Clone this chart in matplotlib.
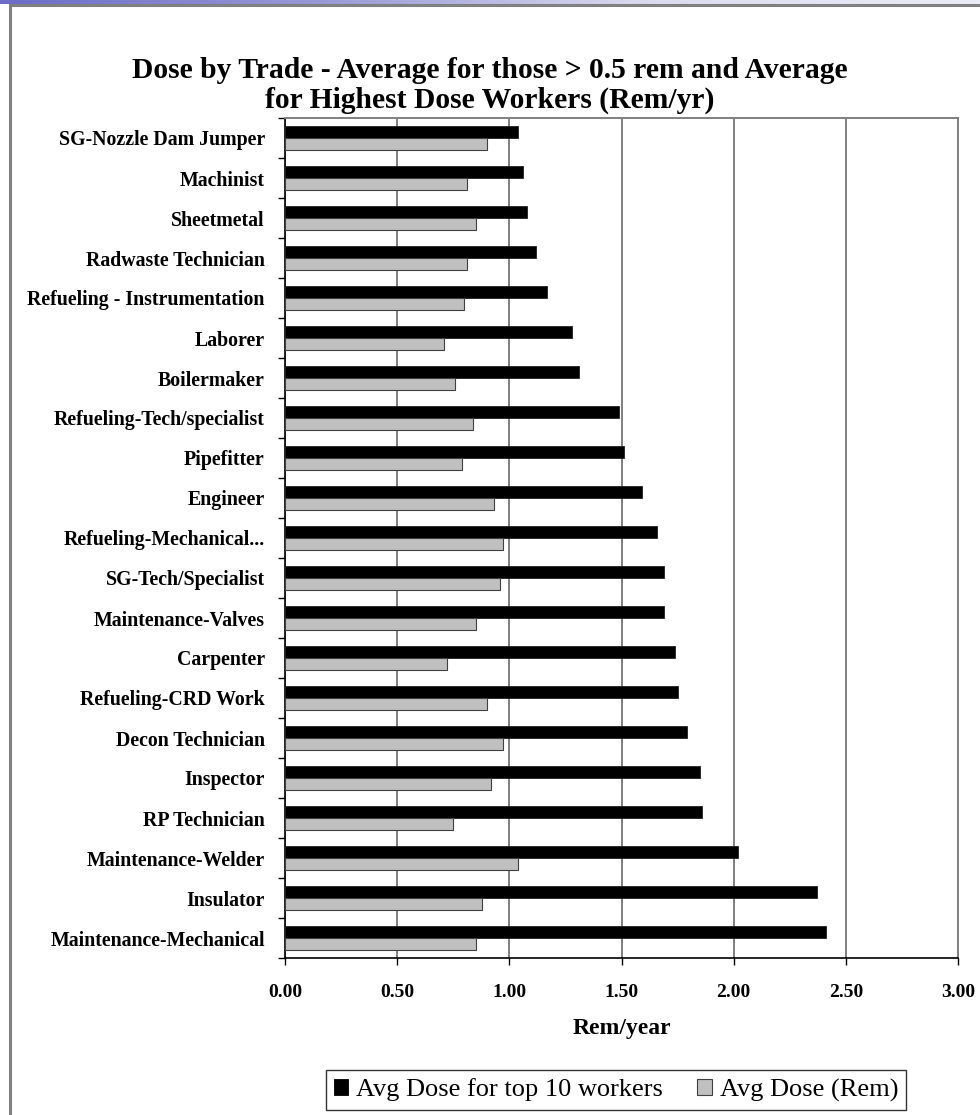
import numpy as np
import matplotlib
matplotlib.use("Agg")
import matplotlib.pyplot as plt
from matplotlib.lines import Line2D
from matplotlib.patches import Patch
from matplotlib.colors import LinearSegmentedColormap

# Trades, listed top to bottom
trades = [
    "SG-Nozzle Dam Jumper",
    "Machinist",
    "Sheetmetal",
    "Radwaste Technician",
    "Refueling - Instrumentation",
    "Laborer",
    "Boilermaker",
    "Refueling-Tech/specialist",
    "Pipefitter",
    "Engineer",
    "Refueling-Mechanical...",
    "SG-Tech/Specialist",
    "Maintenance-Valves",
    "Carpenter",
    "Refueling-CRD Work",
    "Decon Technician",
    "Inspector",
    "RP Technician",
    "Maintenance-Welder",
    "Insulator",
    "Maintenance-Mechanical",
]

# Average dose of the ten highest-dose workers per trade (rem/yr)
top10_dose = [1.04, 1.06, 1.08, 1.12, 1.17, 1.28, 1.31, 1.49, 1.51, 1.59, 1.66,
              1.69, 1.69, 1.74, 1.75, 1.79, 1.85, 1.86, 2.02, 2.37, 2.41]

# Average dose for workers above 0.5 rem (rem/yr)
avg_dose = [0.90, 0.81, 0.85, 0.81, 0.80, 0.71, 0.76, 0.84, 0.79, 0.93, 0.97,
            0.96, 0.85, 0.72, 0.90, 0.97, 0.92, 0.75, 1.04, 0.88, 0.85]

x_ticks = [0.0, 0.5, 1.0, 1.5, 2.0, 2.5, 3.0]
series_names = ["Avg Dose for top 10 workers", "Avg Dose (Rem)"]

SERIF = ["Liberation Serif", "DejaVu Serif"]
W, H = 980, 1115

fig = plt.figure(figsize=(W / 100, H / 100), dpi=100)
fig.patch.set_facecolor("white")

# Slide header strip with a blue-violet gradient and a gray frame
strip = fig.add_axes([0, 1 - 4 / H, 1, 4 / H])
grad = np.linspace(0, 1, 256)[None, :]
cmap = LinearSegmentedColormap.from_list("hdr", ["#6c6cc8", "#9a9ad8", "#dcdcf0", "#ececf6"])
strip.imshow(grad, aspect="auto", cmap=cmap, extent=[0, 1, 0, 1])
strip.set_axis_off()
fig.add_artist(Line2D([10 / W, 1], [1 - 5 / H, 1 - 5 / H], color="#808080", lw=2.2,
                      transform=fig.transFigure))
fig.add_artist(Line2D([10 / W, 10 / W], [0, 1 - 5 / H], color="#808080", lw=2.2,
                      transform=fig.transFigure))

ax = fig.add_axes([285 / W, 1 - 958 / H, (958 - 285) / W, (958 - 118) / H])

y = np.arange(len(trades))
h = 0.30
ax.barh(y - h / 2, top10_dose, height=h, color="black", edgecolor="#202020",
        linewidth=0.6, zorder=3, label=series_names[0])
ax.barh(y + h / 2, avg_dose, height=h, color="#c0c0c0", edgecolor="#404040",
        linewidth=0.8, zorder=3, label=series_names[1])

ax.set_xlim(0, 3.0)
ax.set_ylim(len(trades) - 0.5, -0.5)

ax.set_xticks(x_ticks)
ax.set_xticklabels([f"{v:.2f}" for v in x_ticks], fontfamily=SERIF,
                   fontweight="bold", fontsize=14)
ax.xaxis.grid(True, color="#808080", linewidth=1.4, zorder=0)
ax.set_axisbelow(True)
ax.tick_params(axis="x", direction="out", length=5, width=1, color="black", pad=14)

ax.set_yticks(y)
ax.set_yticklabels(trades, fontfamily=SERIF, fontweight="bold", fontsize=14.3)
ax.set_yticks(np.arange(len(trades) + 1) - 0.5, minor=True)
ax.tick_params(axis="y", which="major", length=0, pad=14.5)
ax.tick_params(axis="y", which="minor", direction="out", length=5, width=1, color="black")

for side in ("left", "bottom"):
    ax.spines[side].set_color("black")
    ax.spines[side].set_linewidth(1.2)
for side in ("top", "right"):
    ax.spines[side].set_color("#808080")
    ax.spines[side].set_linewidth(1.4)

ax.set_xlabel("Rem/year", fontfamily=SERIF, fontweight="bold", fontsize=17, labelpad=12)

fig.text(0.5, 1 - 71 / H, "Dose by Trade - Average for those > 0.5 rem and Average",
         ha="center", va="center", fontfamily=SERIF, fontweight="bold", fontsize=21.3)
fig.text(0.5, 1 - 100 / H, "for Highest Dose Workers (Rem/yr)",
         ha="center", va="center", fontfamily=SERIF, fontweight="bold", fontsize=21.3)

handles = [Patch(facecolor="black", edgecolor="black", linewidth=0.6),
           Patch(facecolor="#c0c0c0", edgecolor="#404040", linewidth=0.8)]
leg = fig.legend(handles, series_names, loc="center", ncol=2,
                 bbox_to_anchor=(616 / W, 1 - 1090 / H),
                 prop={"family": SERIF, "size": 19}, frameon=True, fancybox=False,
                 edgecolor="black", handlelength=0.55, handleheight=0.55,
                 handletextpad=0.3, columnspacing=1.3, borderpad=0.3)
leg.get_frame().set_linewidth(1.0)

fig.savefig("out.png", dpi=100, facecolor="white")
